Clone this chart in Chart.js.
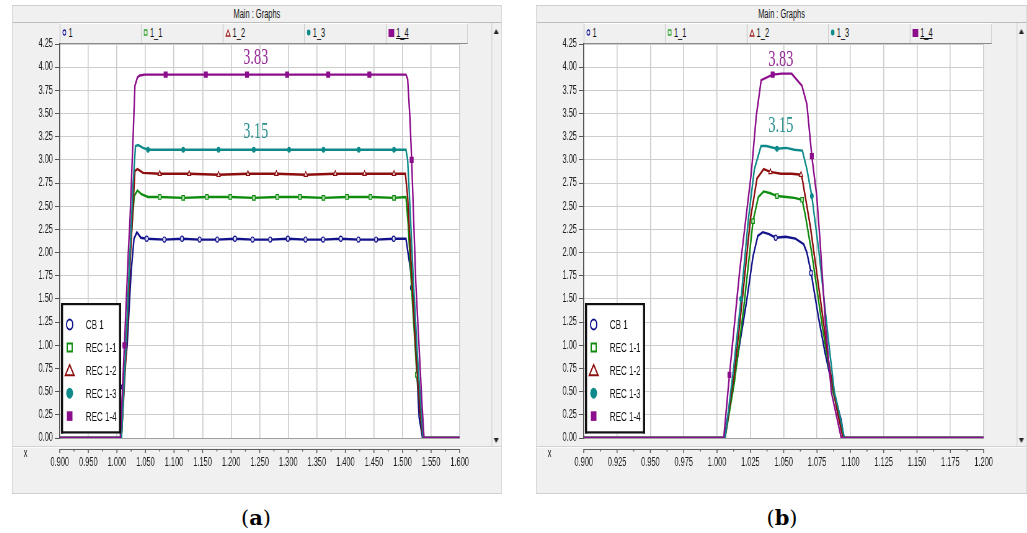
<!DOCTYPE html>
<html lang="en">
<head>
<meta charset="UTF-8" />
<title>Main : Graphs</title>
<script src="https://cdn.jsdelivr.net/npm/chart.js@4.4.1/dist/chart.umd.min.js"></script>
<style>
  body { margin:0; width:1027px; height:533px; overflow:hidden; background:#fff; position:relative;
         font-family:'Liberation Sans', Arial, sans-serif; }
  /* the screenshots are squeezed sideways, so each window is laid out wide and scaled */
  .panel { position:absolute; top:5px; height:489px; background:#f0f0f0; border:1px solid #cfcfcf;
           box-sizing:border-box; transform:scaleX(0.62); transform-origin:0 0; }
  .ttl { position:absolute; left:0; right:0; top:0; height:16px; line-height:17px; text-align:center;
         font-size:12px; color:#111; border-bottom:1px solid #bdbdbd; }
  .head { position:absolute; left:76px; top:17px; width:658px; height:21px; box-sizing:border-box;
          border-top:1px solid #fff; border-bottom:1px solid #8a8a8a; display:flex; }
  .head div { flex:1; border-left:1px solid #c4c4c4; font-size:12px; line-height:19px; color:#111;
              padding-left:3px; box-sizing:border-box; white-space:nowrap; }
  .head div:last-child { border-right:1px solid #c4c4c4; }
  .head svg { vertical-align:middle; margin-right:3px; position:relative; top:-1px; }
  .head u { text-decoration:underline; }
  canvas { position:absolute; left:0; top:24px; }
  .sep { position:absolute; left:0; right:0; top:440px; border-top:1px solid #d2d2d2; border-bottom:1px solid #fafafa; }
  .xl { position:absolute; left:18px; top:440px; font-size:12px; color:#222; }
  .scr { position:absolute; right:0; top:17px; width:15px; height:424px; border-left:1px solid #c8c8c8; }
  .up, .dn { position:absolute; left:3px; width:0; height:0; border-left:4px solid transparent; border-right:4px solid transparent; }
  .up { top:6px; border-bottom:5px solid #222; }
  .dn { bottom:4px; border-top:5px solid #222; }
  .cap { position:absolute; top:503px; width:100px; text-align:center; font-family:'DejaVu Serif', 'Liberation Serif', serif;
         font-size:21px; line-height:30px; color:#000; }
</style>
</head>
<body>

<div class="panel" style="left:12px;width:790px">
  <div class="ttl">Main : Graphs</div>
  <div class="head" id="ha"></div>
  <canvas id="ca" width="753" height="450"></canvas>
  <div class="sep"></div>
  <div class="xl">x</div>
  <div class="scr"><span class="up"></span><span class="dn"></span></div>
</div>
<div class="cap" style="left:206px">(<b>a</b>)</div>

<div class="panel" style="left:536px;width:792px">
  <div class="ttl">Main : Graphs</div>
  <div class="head" id="hb"></div>
  <canvas id="cb" width="753" height="450"></canvas>
  <div class="sep"></div>
  <div class="xl">x</div>
  <div class="scr"><span class="up"></span><span class="dn"></span></div>
</div>
<div class="cap" style="left:732px">(<b>b</b>)</div>

<script>
// names
const seriesNames = ['CB 1', 'REC 1-1', 'REC 1-2', 'REC 1-3', 'REC 1-4'];
const headerNames = ['1', '1_1', '1_2', '1_3', '1_4'];

// ticks
const ticksY  = [0.00, 0.25, 0.50, 0.75, 1.00, 1.25, 1.50, 1.75, 2.00, 2.25, 2.50, 2.75, 3.00, 3.25, 3.50, 3.75, 4.00, 4.25];
const aTicksX = [0.900, 0.950, 1.000, 1.050, 1.100, 1.150, 1.200, 1.250, 1.300, 1.350, 1.400, 1.450, 1.500, 1.550, 1.600];
const bTicksX = [0.900, 0.925, 0.950, 0.975, 1.000, 1.025, 1.050, 1.075, 1.100, 1.125, 1.150, 1.175, 1.200];

// ---- (a) ----
const aCb1X = [0.900, 1.007, 1.0105, 1.018, 1.025, 1.030, 1.035, 1.042,
  1.0522, 1.0831, 1.114, 1.1448, 1.1757, 1.2066, 1.2375, 1.2684, 1.2993, 1.3302, 1.361, 1.3919, 1.4228, 1.4537, 1.4846,
  1.506, 1.5148, 1.5165, 1.519, 1.5233, 1.529, 1.535, 1.600];
const aCb1Y = [0, 0, 0.55, 1.00, 1.80, 2.15, 2.22, 2.16,
  2.15, 2.14, 2.15, 2.14, 2.14, 2.15, 2.14, 2.14, 2.15, 2.14, 2.14, 2.15, 2.14, 2.14, 2.15,
  2.15, 1.78, 1.62, 1.53, 0.95, 0.23, 0, 0];
const aCb1M = [1.0105, 1.0522, 1.0831, 1.114, 1.1448, 1.1757, 1.2066, 1.2375, 1.2684, 1.2993, 1.3302, 1.361, 1.3919, 1.4228, 1.4537, 1.4846, 1.5165];

const aR11X = [0.900, 1.008, 1.016, 1.023, 1.0304, 1.036, 1.043, 1.0544,
  1.075, 1.1162, 1.1574, 1.1985, 1.2397, 1.2809, 1.3204, 1.3616, 1.4027, 1.4439, 1.4851,
  1.506, 1.510, 1.516, 1.522, 1.525, 1.528, 1.533, 1.536, 1.600];
const aR11Y = [0, 0, 1.00, 2.00, 2.61, 2.67, 2.63, 2.60,
  2.60, 2.59, 2.60, 2.60, 2.59, 2.60, 2.60, 2.59, 2.60, 2.60, 2.59,
  2.60, 2.30, 1.60, 1.00, 0.68, 0.50, 0.15, 0, 0];
const aR11M = [1.075, 1.1162, 1.1574, 1.1985, 1.2397, 1.2809, 1.3204, 1.3616, 1.4027, 1.4439, 1.4851, 1.525];

const aR12X = [0.900, 1.008, 1.017, 1.024, 1.0316, 1.036, 1.0458,
  1.075, 1.1265, 1.178, 1.2294, 1.2792, 1.3307, 1.3822, 1.4336, 1.4851,
  1.505, 1.509, 1.515, 1.521, 1.527, 1.532, 1.536, 1.600];
const aR12Y = [0, 0, 1.00, 2.00, 2.88, 2.90, 2.86,
  2.85, 2.85, 2.84, 2.85, 2.85, 2.84, 2.85, 2.85, 2.85,
  2.85, 2.60, 1.90, 1.20, 0.60, 0.20, 0, 0];
const aR12M = [1.075, 1.1265, 1.178, 1.2294, 1.2792, 1.3307, 1.3822, 1.4336, 1.4851, 1.536];

const aR13X = [0.900, 1.008, 1.016, 1.023, 1.028, 1.0326, 1.0373, 1.0458,
  1.0544, 1.1162, 1.178, 1.2397, 1.3015, 1.3616, 1.4234, 1.4851,
  1.506, 1.509, 1.513, 1.519, 1.526, 1.532, 1.536, 1.600];
const aR13Y = [0, 0, 1.00, 2.00, 2.70, 3.15, 3.16, 3.13,
  3.11, 3.11, 3.11, 3.11, 3.11, 3.11, 3.11, 3.11,
  3.11, 3.00, 2.50, 1.70, 0.90, 0.35, 0, 0];
const aR13M = [1.0544, 1.1162, 1.178, 1.2397, 1.3015, 1.3616, 1.4234, 1.4851];

const aR14X = [0.900, 1.006, 1.0132, 1.020, 1.023, 1.0287, 1.0316, 1.036, 1.040, 1.0487,
  1.0853, 1.1557, 1.2278, 1.298, 1.370, 1.442,
  1.506, 1.509, 1.513, 1.516, 1.5233, 1.5337, 1.5377, 1.600];
const aR14Y = [0, 0, 1.00, 2.00, 2.36, 3.30, 3.80, 3.89, 3.91, 3.92,
  3.92, 3.92, 3.92, 3.92, 3.92, 3.92,
  3.92, 3.87, 3.45, 3.00, 1.67, 0.41, 0, 0];
const aR14M = [1.0132, 1.0853, 1.1557, 1.2278, 1.298, 1.370, 1.442, 1.516];

const aNoteText = ['3.83', '3.15'];
const aNoteX = [1.243, 1.243];
const aNoteY = [4.10, 3.30];

// ---- (b) ----
const bCb1X = [0.900, 1.0054, 1.0147, 1.022, 1.027, 1.0306, 1.0343, 1.039, 1.044, 1.0515, 1.0588, 1.065, 1.0674, 1.0706, 1.076, 1.081, 1.087, 1.0932, 1.0951, 1.200];
const bCb1Y = [0, 0, 0.81, 1.46, 1.96, 2.18, 2.22, 2.20, 2.16, 2.17, 2.15, 2.09, 2.00, 1.78, 1.31, 0.92, 0.52, 0.19, 0, 0];
const bCb1M = [1.044, 1.0706];

const bR11X = [0.900, 1.006, 1.013, 1.020, 1.027, 1.031, 1.035, 1.040, 1.045, 1.052, 1.058, 1.0638, 1.066, 1.071, 1.079, 1.087, 1.092, 1.0955, 1.200];
const bR11Y = [0, 0, 0.60, 1.40, 2.34, 2.60, 2.66, 2.64, 2.61, 2.60, 2.59, 2.57, 2.42, 2.00, 1.20, 0.50, 0.20, 0, 0];
const bR11M = [1.027, 1.045, 1.0638];

const bR12X = [0.900, 1.006, 1.013, 1.019, 1.025, 1.030, 1.035, 1.040, 1.048, 1.056, 1.063, 1.064, 1.070, 1.0775, 1.084, 1.090, 1.0945, 1.200];
const bR12Y = [0, 0, 0.70, 1.50, 2.36, 2.80, 2.90, 2.87, 2.85, 2.85, 2.84, 2.79, 2.28, 1.50, 0.80, 0.30, 0, 0];
const bR12M = [1.040, 1.063];

const bR13X = [0.900, 1.006, 1.012, 1.018, 1.0235, 1.028, 1.033, 1.037, 1.045, 1.052, 1.058, 1.064, 1.0674, 1.0711, 1.0765, 1.084, 1.088, 1.092, 1.0955, 1.200];
const bR13Y = [0, 0, 0.70, 1.50, 2.36, 2.90, 3.15, 3.15, 3.12, 3.13, 3.11, 3.10, 2.90, 2.61, 2.00, 1.00, 0.50, 0.25, 0, 0];
const bR13M = [1.018, 1.045, 1.0711];

const bR14X = [0.900, 1.005, 1.0093, 1.0171, 1.0257, 1.0294, 1.0331, 1.0417, 1.0485, 1.056, 1.0637, 1.0674, 1.0711, 1.0748, 1.0772, 1.0815, 1.0858, 1.0932, 1.200];
const bR14Y = [0, 0, 0.68, 1.82, 2.86, 3.47, 3.86, 3.92, 3.93, 3.93, 3.80, 3.60, 3.04, 2.61, 2.14, 1.20, 0.49, 0, 0];
const bR14M = [1.0093, 1.0417, 1.0711];

const bNoteText = ['3.83', '3.15'];
const bNoteX = [1.0478, 1.0478];
const bNoteY = [4.08, 3.37];

// styles
const lineColors = ['#12128c', '#0e8c0e', '#8c0e0e', '#0e8a8a', '#8c0e8c'];
const markStyles = ['circle', 'rect', 'triangle', 'circle', 'rect'];
const markFills  = ['#d8d8f0', '#b8e0b8', '#ffffff', '#0e8a8a', '#8c0e8c'];
const markSizes  = [2.6, 3.2, 3.2, 2.4, 3.6];
const noteColors = ['#952a95', '#2a9090'];

Chart.defaults.font.family = "'Liberation Sans', Arial, sans-serif";

function headerRow(id) {
  const icons = [
    '<svg width="7" height="7"><circle cx="3.5" cy="3.5" r="2.5" fill="none" stroke="#1e1ea0" stroke-width="1.3"/></svg>',
    '<svg width="7" height="7"><rect x="1" y="1" width="5" height="5" fill="none" stroke="#1a9a1a" stroke-width="1.3"/></svg>',
    '<svg width="9" height="8"><path d="M4.5 1 L8 7 L1 7 Z" fill="none" stroke="#a02020" stroke-width="1.3"/></svg>',
    '<svg width="7" height="7"><circle cx="3.5" cy="3.5" r="3" fill="#108c8c"/></svg>',
    '<svg width="10" height="8"><rect x="0" y="0" width="10" height="8" fill="#8c0e8c"/></svg>'
  ];
  document.getElementById(id).innerHTML = headerNames.map((n, i) =>
    '<div>' + icons[i] + (i === 4 ? '<u>' + n + '</u>' : n) + '</div>').join('');
}

const plotBg = {
  id: 'plotBg',
  beforeDraw(chart) {
    const a = chart.chartArea, c = chart.ctx;
    c.save();
    c.fillStyle = '#ffffff';
    c.fillRect(a.left, a.top, a.right - a.left, a.bottom - a.top);
    c.restore();
  }
};

// separate tick strip below the plot, as in the software
const axisStrip = {
  id: 'axisStrip',
  afterDraw(chart) {
    const c = chart.ctx, a = chart.chartArea, sx = chart.scales.x;
    const y0 = a.bottom + 11;
    const vals = sx.ticks.map(t => t.value);
    c.save();
    c.strokeStyle = '#606060';
    c.lineWidth = 1;
    c.beginPath(); c.moveTo(a.left, y0 + 0.5); c.lineTo(a.right, y0 + 0.5); c.stroke();
    c.lineWidth = 1.6;
    c.beginPath();
    vals.forEach((v, i) => {
      const px = sx.getPixelForValue(v);
      c.moveTo(px, y0); c.lineTo(px, y0 + 4);
      if (i < vals.length - 1) {
        const pm = sx.getPixelForValue((v + vals[i + 1]) / 2);
        c.moveTo(pm, y0); c.lineTo(pm, y0 + 2.5);
      }
    });
    c.stroke();
    c.restore();
  }
};

function valueNotes(texts, xs, ys) {
  return {
    id: 'valueNotes',
    afterDatasetsDraw(chart) {
      const c = chart.ctx, sx = chart.scales.x, sy = chart.scales.y;
      c.save();
      c.font = '23px "Liberation Serif", "DejaVu Serif", serif';
      c.textAlign = 'center';
      c.textBaseline = 'middle';
      texts.forEach((t, i) => {
        c.fillStyle = noteColors[i];
        c.fillText(t, sx.getPixelForValue(xs[i]), sy.getPixelForValue(ys[i]));
      });
      c.restore();
    }
  };
}

function legendMark(c, i, x, y) {
  c.save();
  c.strokeStyle = lineColors[i];
  c.fillStyle = lineColors[i];
  c.lineWidth = 2;
  c.beginPath();
  if (i === 0) { c.arc(x, y, 5, 0, Math.PI * 2); c.stroke(); }
  else if (i === 1) { c.rect(x - 4, y - 4, 8, 8); c.stroke(); }
  else if (i === 2) { c.moveTo(x, y - 5.5); c.lineTo(x + 7, y + 5); c.lineTo(x - 7, y + 5); c.closePath(); c.stroke(); }
  else if (i === 3) { c.arc(x, y, 5.5, 0, Math.PI * 2); c.fill(); }
  else { c.rect(x - 4.5, y - 4.8, 9, 9.6); c.fill(); }
  c.restore();
}

const boxLegend = {
  id: 'boxLegend',
  afterDraw(chart) {
    const c = chart.ctx, a = chart.chartArea;
    const L = a.left + 2, T = a.bottom - 135, W = 97, H = 130.5;
    c.save();
    c.fillStyle = '#ffffff';
    c.fillRect(L, T, W, H);
    c.fillStyle = '#111';
    c.fillRect(L, T, W, 2.2);
    c.fillRect(L, T + H - 2.2, W, 2.2);
    c.fillRect(L, T, 3.4, H);
    c.fillRect(L + W - 3.4, T, 3.4, H);
    c.font = '13px "Liberation Sans", Arial, sans-serif';
    c.textBaseline = 'middle';
    chart.data.datasets.forEach((ds, i) => {
      const ry = a.bottom - 113.5 + i * 22.9;
      legendMark(c, i, L + 14, ry);
      c.fillStyle = '#111';
      c.fillText(ds.label, L + 40, ry + 1);
    });
    c.restore();
  }
};

function buildSets(xsList, ysList, marksList) {
  return xsList.map((xs, i) => ({
    label: seriesNames[i],
    data: xs.map((x, j) => ({ x: x, y: ysList[i][j] })),
    borderColor: lineColors[i],
    borderWidth: 2.4,
    pointStyle: markStyles[i],
    pointBorderColor: lineColors[i],
    pointBackgroundColor: markFills[i],
    pointBorderWidth: 1.2,
    pointRadius: ctx => (ctx.raw && marksList[i].includes(ctx.raw.x)) ? markSizes[i] : 0,
    tension: 0,
    order: 4 - i
  }));
}

function makeChart(canvasId, xMin, xMax, xTicks, sets, notes) {
  return new Chart(document.getElementById(canvasId), {
    type: 'line',
    data: { datasets: sets },
    options: {
      responsive: false,
      animation: false,
      events: [],
      layout: { padding: { top: 14, right: 19, left: 0, bottom: 0 } },
      plugins: { legend: { display: false }, tooltip: { enabled: false } },
      scales: {
        x: {
          type: 'linear', min: xMin, max: xMax,
          afterBuildTicks: s => { s.ticks = xTicks.map(v => ({ value: v })); },
          afterFit: s => { s.height = 42; },
          ticks: { callback: v => v.toFixed(3), autoSkip: false, maxRotation: 0, padding: 17,
                   color: '#1c1c1c', font: { size: 12 } },
          grid: { color: '#cdcdcd', lineWidth: 1.6, drawTicks: false },
          border: { color: '#a0a0a0', width: 1 }
        },
        y: {
          type: 'linear', min: 0, max: 4.25,
          afterBuildTicks: s => { s.ticks = ticksY.map(v => ({ value: v })); },
          afterFit: s => { s.width = 76; },
          ticks: { callback: v => v.toFixed(2), padding: 3, color: '#1c1c1c', font: { size: 12 } },
          grid: { color: '#cdcdcd', lineWidth: 1, tickColor: '#555', tickLength: 8 },
          border: { color: '#555', width: 1.6 }
        }
      }
    },
    plugins: [plotBg, axisStrip, valueNotes(notes[0], notes[1], notes[2]), boxLegend]
  });
}

headerRow('ha');
headerRow('hb');

makeChart('ca', 0.9, 1.6, aTicksX,
  buildSets([aCb1X, aR11X, aR12X, aR13X, aR14X], [aCb1Y, aR11Y, aR12Y, aR13Y, aR14Y], [aCb1M, aR11M, aR12M, aR13M, aR14M]),
  [aNoteText, aNoteX, aNoteY]);

makeChart('cb', 0.9, 1.2, bTicksX,
  buildSets([bCb1X, bR11X, bR12X, bR13X, bR14X], [bCb1Y, bR11Y, bR12Y, bR13Y, bR14Y], [bCb1M, bR11M, bR12M, bR13M, bR14M]),
  [bNoteText, bNoteX, bNoteY]);
</script>
</body>
</html>
